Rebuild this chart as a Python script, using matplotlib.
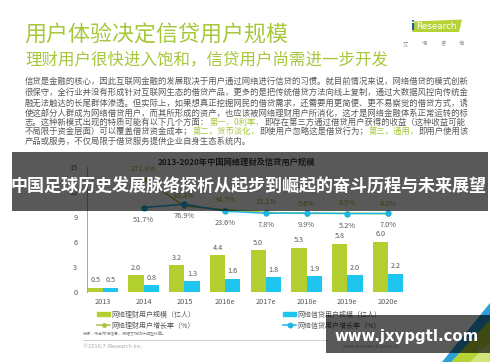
import matplotlib
matplotlib.use('Agg')
import matplotlib.pyplot as plt
import numpy as np
from matplotlib.patches import Rectangle, Polygon
from matplotlib.lines import Line2D

plt.rcParams['font.family'] = ['Noto Sans CJK SC', 'DejaVu Sans']

years = ['2013', '2014', '2015', '2016e', '2017e', '2018e', '2019e', '2020e']
wealth_users = [0.5, 2.0, 3.2, 4.4, 5.0, 5.3, 5.8, 6.0]
credit_users = [0.5, 0.8, 1.3, 1.6, 1.8, 1.9, 2.0, 2.2]
wealth_growth = [np.nan, 271.8, 63.4, 34.7, 15.1, 5.6, 8.5, 4.2]
credit_growth = [np.nan, 51.7, 76.9, 23.6, 7.8, 9.9, 5.2, 7.0]
yticks = [0, 3, 6, 9, 12, 15]
legend_labels = ['网络理财用户规模（亿人）', '网络理财用户增长率（%）',
                 '网络信贷用户规模（亿人）', '网络信贷用户增长率（%）']

title = '用户体验决定信贷用户规模'
subtitle = '理财用户很快进入饱和，信贷用户尚需进一步开发'
chart_title = '2013-2020年中国网络理财及信贷用户规模'
banner = '中国足球历史发展脉络探析从起步到崛起的奋斗历程与未来展望'
watermark = 'www.jxypgtl.com'

GREEN = '#b3cf2f'
BLUE = '#1ec5ef'
GREEN_LINE = '#a9c23f'
BLUE_LINE = '#1fb5e3'
TGREEN = '#a6c73a'
P = '#595959'

para = [
    [("信贷是金融的核心，因此互联网金融的发展取决于用户通过网络进行信贷的习惯。就目前情况来说，网络借贷的模式创新", P)],
    [("很保守，全行业并没有形成针对互联网生态的借贷产品，更多的是把传统借贷方法向线上复制，通过大数据风控向传统金", P)],
    [("融无法触达的长尾群体渗透。但实际上，如果想真正挖掘网民的借贷需求，还需要用更简便、更不易察觉的借贷方式，诱", P)],
    [("使这部分人群成为网络借贷用户，而其所形成的资产，也应该被网络理财用户所消化，这才是网络金融体系正常运转的标", P)],
    [("志。这种新模式出现的特质可能有以下几个方面：", P), ("第一，0利率，", TGREEN),
     ("即存在第三方通过借贷用户获得的收益（这种收益可能", P)],
    [("不局限于资金层面）可以覆盖借贷资金成本；", P), ("第二，货币淡化，", TGREEN),
     ("即使用户忽略这是借贷行为；", P), ("第三，通用，", TGREEN), ("即用户使用该", P)],
    [("产品或服务，不仅局限于借贷服务提供企业自身生态系统内。", P)],
]
para_y = [81, 91.8, 102.5, 112.5, 121.8, 131, 140.5]

W, H = 500, 362
fig = plt.figure(figsize=(5, 3.62), dpi=100)
fig.patch.set_facecolor('white')
R = fig.canvas.get_renderer()


def fit(t, width):
    w = t.get_window_extent(R).width
    t.set_fontsize(t.get_fontsize() * width / w)
    return t


def put(a, x, yc, s, width=None, fontsize=6, k=0.38, **kw):
    """Place text so that its ink centre sits at yc (pixel coords, y down)."""
    t = a.text(x, yc, s, va='baseline', fontsize=fontsize, **kw)
    if width is not None:
        fit(t, width)
    em = t.get_fontsize() * 100 / 72
    t.set_position((x, yc + k * em))
    return t


def pixel_axes(z):
    a = fig.add_axes([0, 0, 1, 1], zorder=z)
    a.set_xlim(0, W)
    a.set_ylim(H, 0)
    a.axis('off')
    a.patch.set_visible(False)
    return a


bg = pixel_axes(0)

# header
put(bg, 24.5, 33, title, width=264, fontsize=15, color=TGREEN, ha='left')
put(bg, 25, 58.5, subtitle, width=361, fontsize=12, color=TGREEN, ha='left')

# paragraph
probe = bg.text(0, 0, para[0][0][0], fontsize=6)
fs = fit(probe, 443).get_fontsize()
probe.remove()
for runs, y in zip(para, para_y):
    prev = put(bg, 25, y, runs[0][0], fontsize=fs, color=runs[0][1], ha='left')
    for txt, col in runs[1:]:
        prev = bg.annotate(txt, xy=(1, 0), xycoords=prev, va='bottom', ha='left',
                           color=col, fontsize=fs)

# logo
bg.add_patch(Polygon([(414, 21.5), (462, 19.5), (459, 32), (412, 32)], closed=True,
                     facecolor='#b5d334', edgecolor='none'))
bg.text(413, 26.5, 'i', color='#1f5fa8', fontsize=9, va='center', ha='center',
        family='DejaVu Sans', weight='bold')
fit(bg.text(416, 26.5, 'Research', color='white', fontsize=8, va='center', ha='left',
            family='DejaVu Sans'), 41)
for ch, xx in zip(['艾', '瑞', '咨', '询'], [405, 424, 443, 461]):
    put(bg, xx, 43, ch, fontsize=3.8, color='#8c8c8c', ha='center')

# chart title
put(bg, 236, 162, chart_title, width=158, fontsize=6, color='#404040', weight='bold',
    ha='center', k=0.36)

# footer
put(bg, 83, 334, '来源：综合市场信息，根据艾瑞统计模型核算。', width=84, fontsize=3,
    color='#7f7f7f', ha='left')
bg.plot([83, 327], [339.5, 339.5], color='#c8c8c8', lw=0.6)
fit(bg.text(83, 347, '©2016.7 iResearch Inc.', color='#a6a6a6', va='center', ha='left',
            fontsize=3, family='DejaVu Sans'), 58)
fit(bg.text(343, 347, 'www.iresearch.com.cn', color='#a6a6a6', va='center', ha='left',
            fontsize=3, family='DejaVu Sans'), 55)

# corner triangles
bg.add_patch(Polygon([(490, 303), (490, 362), (442, 362)], closed=True,
                     facecolor='#2b9fd6', edgecolor='none'))
bg.add_patch(Polygon([(490, 320), (490, 362), (451, 362)], closed=True,
                     facecolor='#b5d334', edgecolor='none'))
bg.add_patch(Polygon([(490, 342), (490, 362), (470, 362)], closed=True,
                     facecolor='#d2e27c', edgecolor='none'))
bg.text(480, 350, '11', color='#dddddd', fontsize=5, va='center', ha='center')

# chart
ax = fig.add_axes([87 / W, 1 - 292 / H, 321 / W, 125 / H], zorder=1)
ax.patch.set_visible(False)
x = np.arange(len(years))
bw = 0.376
ax.bar(x - bw / 2, wealth_users, bw, color=GREEN, zorder=2)
ax.bar(x + bw / 2, credit_users, bw, color=BLUE, zorder=2)
for xi, v in zip(x, wealth_users):
    ax.annotate(f'{v:.1f}', (xi - bw / 2, v), xytext=(0, 7.5), textcoords='offset pixels',
                ha='center', va='center', fontsize=5.2, color=P)
for xi, v in zip(x, credit_users):
    ax.annotate(f'{v:.1f}', (xi + bw / 2, v), xytext=(0, 7.5), textcoords='offset pixels',
                ha='center', va='center', fontsize=5.2, color=P)
ax.set_xlim(-0.393, 7.491)
ax.set_ylim(0, 15)
ax.set_yticks(yticks)
ax.set_yticklabels([str(t) for t in yticks])
ax.set_xticks(x)
ax.set_xticklabels(years)
ax.tick_params(axis='both', length=0, labelsize=5.3, colors=P)
ax.tick_params(axis='x', pad=4.5)
ax.tick_params(axis='y', pad=7)
for s in ['top', 'right', 'bottom']:
    ax.spines[s].set_visible(False)
ax.spines['left'].set_color('#a6a6a6')
ax.spines['left'].set_linewidth(0.7)

ax2 = ax.twinx()
ax2.set_zorder(2)
ax2.patch.set_visible(False)
ax2.set_ylim(-593, 361)
ax2.axis('off')
ax2.plot(x, wealth_growth, color=GREEN_LINE, lw=1.1, marker='o', ms=2.5)
ax2.plot(x, credit_growth, color=BLUE_LINE, lw=1.1, marker='o', ms=3.6)
for xi, v in zip(x, wealth_growth):
    if not np.isnan(v):
        ax2.annotate(f'{v:.1f}%', (xi, v), xytext=(0, 10), textcoords='offset pixels',
                     ha='center', va='center', fontsize=5.3, color='#9bb52e')
for xi, v in zip(x, credit_growth):
    if not np.isnan(v):
        ax2.annotate(f'{v:.1f}%', (xi, v), xytext=(0, -12), textcoords='offset pixels',
                     ha='center', va='center', fontsize=5.3, color=P)

h_g_bar = Rectangle((0, 0), 1, 1, color=GREEN)
h_b_bar = Rectangle((0, 0), 1, 1, color=BLUE)
h_g_line = Line2D([0], [0], color=GREEN_LINE, lw=1.1, marker='o', ms=2.5)
h_b_line = Line2D([0], [0], color=BLUE_LINE, lw=1.1, marker='o', ms=3.2)
common = dict(loc='upper left', bbox_transform=fig.transFigure, frameon=False,
              fontsize=5, handlelength=1.9, handleheight=0.6, handletextpad=0.2,
              borderpad=0, borderaxespad=0, labelspacing=0.45, numpoints=1)
leg1 = ax2.legend([h_g_bar, h_g_line], legend_labels[:2],
                  bbox_to_anchor=(97 / W, 1 - 310.5 / H), **common)
for t in leg1.get_texts():
    t.set_color(P)
ax2.add_artist(leg1)
leg2 = ax2.legend([h_b_bar, h_b_line], legend_labels[2:],
                  bbox_to_anchor=(283 / W, 1 - 310.5 / H), **common)
for t in leg2.get_texts():
    t.set_color(P)

# overlay
top = pixel_axes(10)
top.add_patch(Rectangle((12, 152), 476, 58.5, facecolor='black', alpha=0.65, edgecolor='none'))
put(top, 249, 184.5, banner, width=476, fontsize=12, color='white', weight='bold', ha='center')
top.add_patch(Rectangle((326, 315), 164, 37.5, facecolor='black', alpha=0.65, edgecolor='none'))
fit(top.text(406.5, 336.5, watermark, color='white', weight='bold', va='center',
             ha='center', fontsize=13, family='DejaVu Sans'), 143)

fig.savefig('out.png', dpi=100)
